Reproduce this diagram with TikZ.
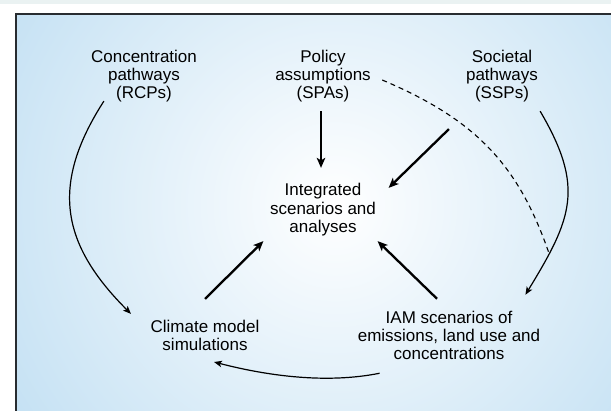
\documentclass[tikz,border=0pt]{standalone}
\usepackage{fontspec}
\setmainfont{Liberation Sans}
\usepackage{tikz}
\usetikzlibrary{arrows.meta}
\definecolor{bgblue}{RGB}{179,216,240}
\definecolor{topgray}{RGB}{234,242,242}
\definecolor{framegray}{RGB}{40,44,48}
\tikzstyle{txt}=[%
      rectangle, draw=none, inner sep=0pt, align=center,
      font=\fontsize{17}{18.3}\selectfont
]
\tikzstyle{bigarrow}=[%
      line width=2.3pt, -{Stealth[length=10pt,width=8.5pt,inset=2.5pt]}
]
\tikzstyle{thinarrow}=[%
      line width=1.2pt, -{Stealth[length=8pt,width=6.5pt,inset=2pt]}
]
\tikzstyle{dashline}=[%
      line width=1.1pt, dash pattern=on 5pt off 4pt
]

\begin{document}
\begin{tikzpicture}[x=1pt, y=-1pt]
    \useasboundingbox (0,0) rectangle (611,411);
    % frame and shaded background
    \fill[white] (0,0) rectangle (611,411);
    \fill[topgray] (0,0) rectangle (611,4);
    \begin{scope}
      \clip (15.7,14) rectangle (611,411);
      \shade[inner color=white, outer color=bgblue] (335,205) circle (500pt);
    \end{scope}
    \draw[framegray, line width=1.6pt] (15.7,411) -- (15.7,14) -- (611,14);

    \node[txt] (rcp)  at (144,76.2)  {Concentration\\pathways\\(RCPs)};
    \node[txt] (spa)  at (323,76.2)  {Policy\\assumptions\\(SPAs)};
    \node[txt] (ssp)  at (502,76.2)  {Societal\\pathways\\(SSPs)};
    \node[txt] (intg) at (323,209.9) {Integrated\\scenarios and\\analyses};
    \node[txt] (clim) at (205,335.4) {Climate model\\simulations};
    \node[txt] (iam)  at (449,335.5) {IAM scenarios of\\emissions, land use and\\concentrations};

    % round the cycle
    \draw[thinarrow] ([shift={(13,-1.5)}]rcp.south west)
          .. controls (50,185) and (61,244) .. ([shift={(-19.5,-5.9)}]clim.north west);
    \draw[thinarrow] ([shift={(2,8.5)}]ssp.south east)
          .. controls (585,187.5) and (572,218.5) .. ([shift={(-15,-16)}]iam.north east)
          coordinate[pos=0.8] (sspjoin);
    \draw[thinarrow] ([shift={(22,13)}]iam.south west)
          .. controls (326,384) and (267,375.75) .. ([shift={(9,11)}]clim.south);
    \draw[dashline] ([shift={(11.3,3.8)}]spa.east)
          .. controls (474,119) and (518,163) .. (sspjoin);

    % into the middle
    \path[bigarrow]
          ([shift={(-2,8.5)}]spa.south)        edge ([shift={(-2,-15.6)}]intg.north)
          ([shift={(-17,26.5)}]ssp.south west) edge ([shift={(12.5,4.4)}]intg.north east)
          ([shift={(0,-20.9)}]clim.north)      edge ([shift={(-6.5,4.8)}]intg.south west)
          ([shift={(-12,-12)}]iam.north)       edge ([shift={(1.5,4.8)}]intg.south east)
    ;

\end{tikzpicture}
\end{document}
